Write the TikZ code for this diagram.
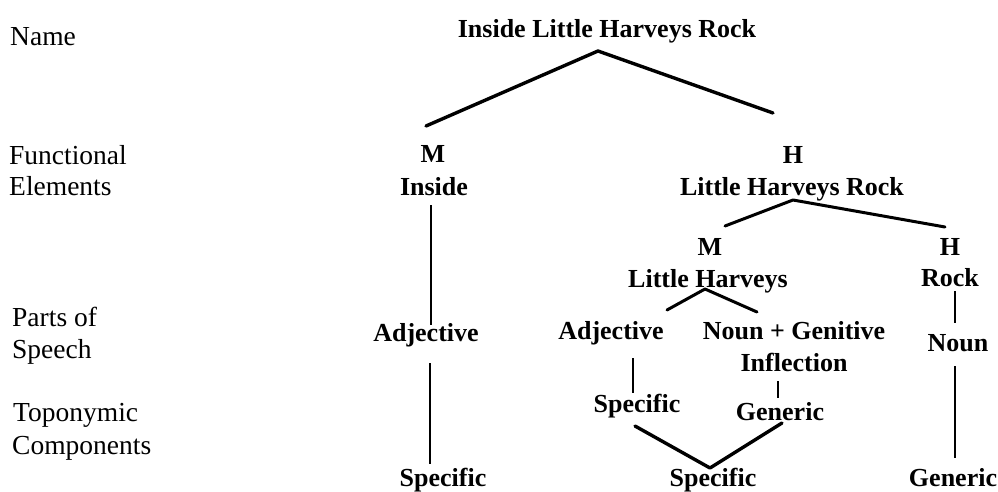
\documentclass[tikz,border=0pt]{standalone}
\usepackage{fontspec}
\setmainfont{Liberation Serif}
\begin{document}
\begin{tikzpicture}[x=1pt,y=-1pt,
  tree/.style={font=\fontsize{26}{28}\selectfont\bfseries, inner sep=0pt, anchor=base},
  level/.style={font=\fontsize{27.5}{30}\selectfont, inner sep=0pt, anchor=base west},
  branch/.style={line width=3.4pt, line join=round, line cap=round},
  stem/.style={line width=1.8pt}]
\useasboundingbox (0,0) rectangle (998,491);

% analysis levels
\node[level] (lName)   at (10,45)  {Name};
\node[level] (lFunc)   at (9,164)  {Functional};
\node[level] (lElem)   at (9,195)  {Elements};
\node[level] (lParts)  at (12,326) {Parts of};
\node[level] (lSpeech) at (12,358) {Speech};
\node[level] (lTopo)   at (13,421) {Toponymic};
\node[level] (lComp)   at (12,454) {Components};

% the name and its constituents
\node[tree] (name)   at (607,37)  {Inside Little Harveys Rock};
\node[tree] (m1)     at (433,162) {M};
\node[tree] (inside) at (434,195) {Inside};
\node[tree] (h1)     at (793,163) {H};
\node[tree] (lhr)    at (792,195) {Little Harveys Rock};
\node[tree] (m2)     at (710,255) {M};
\node[tree] (lh)     at (708,287) {Little Harveys};
\node[tree] (h2)     at (950,255) {H};
\node[tree] (rock)   at (950,286) {Rock};
\node[tree] (adjA)   at (426,341) {Adjective};
\node[tree] (adjB)   at (611,339) {Adjective};
\node[tree] (noun)   at (794,339) {Noun + Genitive};
\node[tree] (infl)   at (794,371) {Inflection};
\node[tree] (nounR)  at (958,351) {Noun};
\node[tree] (specB)  at (637,412) {Specific};
\node[tree] (genB)   at (780,420) {Generic};
\node[tree] (specA2) at (443,486) {Specific};
\node[tree] (specB2) at (713,486) {Specific};
\node[tree] (genR2)  at (953,486) {Generic};

% branching points
\coordinate (nameJ)  at (598,51);
\coordinate (m1J)    at (426,126);
\coordinate (h1J)    at (773,113);
\coordinate (lhrJ)   at (793,200);
\coordinate (m2J)    at (725,226);
\coordinate (h2J)    at (945,227);
\coordinate (lhJ)    at (705,289);
\coordinate (adjBJ)  at (667,310);
\coordinate (nounJ)  at (757,312);
\coordinate (specBJ) at (635,426);
\coordinate (genBJ)  at (782,423);
\coordinate (mergeJ) at (710,468);

\draw[branch] (m1J) -- (nameJ) -- (h1J);
\draw[branch, line width=3pt] (m2J) -- (lhrJ) -- (h2J);
\draw[branch, line width=3pt] (adjBJ) -- (lhJ) -- (nounJ);
\draw[branch] (specBJ) -- (mergeJ) -- (genBJ);

% single-line descents
\coordinate (insideS) at (431,205);
\coordinate (adjAN)   at (431,325);
\coordinate (adjAS)   at (430,363);
\coordinate (specA2N) at (430,464);
\coordinate (adjBS)   at (633,358);
\coordinate (specBN)  at (633,393);
\coordinate (inflS)   at (778,381);
\coordinate (genBN)   at (778,398);
\coordinate (rockS)   at (955,291);
\coordinate (nounRN)  at (955,323);
\coordinate (nounRS)  at (955,366);
\coordinate (genR2N)  at (955,458);

\draw[stem] (insideS) -- (adjAN);
\draw[stem] (adjAS) -- (specA2N);
\draw[stem] (adjBS) -- (specBN);
\draw[stem] (inflS) -- (genBN);
\draw[stem] (rockS) -- (nounRN);
\draw[stem] (nounRS) -- (genR2N);
\end{tikzpicture}
\end{document}
